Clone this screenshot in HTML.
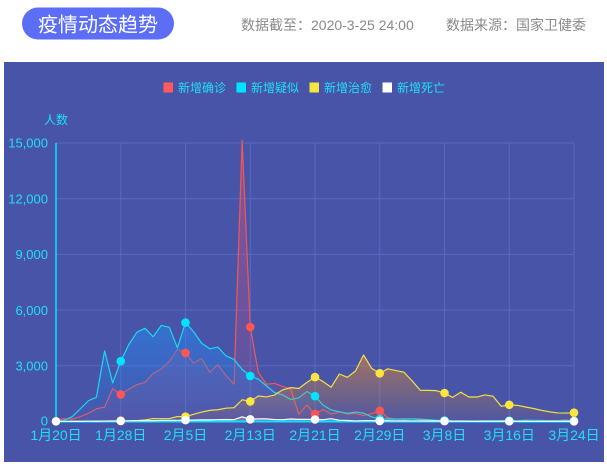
<!DOCTYPE html>
<html>
<head>
<meta charset="utf-8">
<style>
html,body{margin:0;padding:0;background:#fff;width:607px;height:468px;overflow:hidden;}
svg{display:block;}
text{font-family:"Liberation Sans","Noto Sans CJK SC",sans-serif;}
</style>
</head>
<body>
<svg width="607" height="468" viewBox="0 0 607 468" xmlns="http://www.w3.org/2000/svg">
<defs>
  <linearGradient id="gR" x1="0" y1="1" x2="0" y2="0">
    <stop offset="0" stop-color="#e0507a" stop-opacity="0.45"/>
    <stop offset="1" stop-color="#e0507a" stop-opacity="0.08"/>
  </linearGradient>
  <linearGradient id="gC" x1="0" y1="1" x2="0" y2="0">
    <stop offset="0" stop-color="#2884eb" stop-opacity="0.62"/>
    <stop offset="1" stop-color="#2884eb" stop-opacity="0.06"/>
  </linearGradient>
  <linearGradient id="gY" x1="0" y1="1" x2="0" y2="0">
    <stop offset="0" stop-color="#e68c2c" stop-opacity="0.55"/>
    <stop offset="1" stop-color="#e68c2c" stop-opacity="0.05"/>
  </linearGradient>
  <linearGradient id="gW" x1="0" y1="1" x2="0" y2="0">
    <stop offset="0" stop-color="#ffffff" stop-opacity="0.3"/>
    <stop offset="1" stop-color="#ffffff" stop-opacity="0.05"/>
  </linearGradient>
</defs>

<!-- header -->
<rect x="22" y="7.5" width="152" height="32" rx="16" ry="16" fill="#5b6ef5"/>
<text x="98" y="31.5" font-size="20" fill="#ffffff" text-anchor="middle">疫情动态趋势</text>
<text x="241" y="30" font-size="14" fill="#8a8a8a">数据截至：2020-3-25 24:00</text>
<text x="446" y="30" font-size="14" fill="#8a8a8a">数据来源：国家卫健委</text>

<!-- panel -->
<rect x="4" y="62" width="600" height="400" fill="#4854a8"/>

<!-- legend -->
<rect x="163.5" y="82.5" width="9.5" height="10" fill="#ff5a5a"/>
<text x="178" y="92" font-size="12" fill="#1fe0f5">新增确诊</text>
<rect x="236.5" y="82.5" width="9.5" height="10" fill="#00e5ff"/>
<text x="251" y="92" font-size="12" fill="#1fe0f5">新增疑似</text>
<rect x="309.5" y="82.5" width="9.5" height="10" fill="#f7e640"/>
<text x="324" y="92" font-size="12" fill="#1fe0f5">新增治愈</text>
<rect x="382.5" y="82.5" width="9.5" height="10" fill="#ffffff"/>
<text x="397" y="92" font-size="12" fill="#1fe0f5">新增死亡</text>

<text x="44" y="124" font-size="12" fill="#1fe0f5">人数</text>

<!-- grid -->
<g stroke="#5769c0" stroke-width="1" fill="none">
  <line x1="56" y1="143" x2="574" y2="143"/>
  <line x1="56" y1="198.7" x2="574" y2="198.7"/>
  <line x1="56" y1="254.4" x2="574" y2="254.4"/>
  <line x1="56" y1="310.1" x2="574" y2="310.1"/>
  <line x1="56" y1="365.8" x2="574" y2="365.8"/>
  <line x1="120.75" y1="143" x2="120.75" y2="421.5"/>
  <line x1="185.5" y1="143" x2="185.5" y2="421.5"/>
  <line x1="250.25" y1="143" x2="250.25" y2="421.5"/>
  <line x1="315" y1="143" x2="315" y2="421.5"/>
  <line x1="379.75" y1="143" x2="379.75" y2="421.5"/>
  <line x1="444.5" y1="143" x2="444.5" y2="421.5"/>
  <line x1="509.25" y1="143" x2="509.25" y2="421.5"/>
  <line x1="574" y1="143" x2="574" y2="421.5"/>
</g>

<!-- y labels -->
<g font-size="13" fill="#1fe0f5" text-anchor="end">
  <text x="48" y="147.7">15,000</text>
  <text x="48" y="203.4">12,000</text>
  <text x="48" y="259.1">9,000</text>
  <text x="48" y="314.8">6,000</text>
  <text x="48" y="370.5">3,000</text>
  <text x="48" y="425.5">0</text>
</g>

<!-- series in data coordinates -->
<g transform="translate(56,421.5) scale(8.09375,-0.018567)">
  <!-- red -->
  <polygon fill="url(#gR)" points="0,77 1,149 2,131 3,259 4,444 5,688 6,769 7,1771 8,1459 9,1737 10,1982 11,2102 12,2590 13,2829 14,3235 15,3887 16,3694 17,3143 18,3399 19,2656 20,3062 21,2478 22,2015 23,15152 24,5090 25,2641 26,2009 27,2048 28,1886 29,1749 30,394 31,889 32,397 33,648 34,409 35,508 36,406 37,433 38,327 39,427 40,573 41,202 42,125 43,119 44,139 45,143 46,99 47,44 48,40 49,19 50,24 51,15 52,8 53,11 54,20 55,16 56,21 57,13 58,34 59,39 60,41 61,46 62,39 63,78 64,47 64,0 0,0"/>
  <polyline fill="none" stroke="#f25757" stroke-width="1.2" stroke-linejoin="round" vector-effect="non-scaling-stroke" points="0,77 1,149 2,131 3,259 4,444 5,688 6,769 7,1771 8,1459 9,1737 10,1982 11,2102 12,2590 13,2829 14,3235 15,3887 16,3694 17,3143 18,3399 19,2656 20,3062 21,2478 22,2015 23,15152 24,5090 25,2641 26,2009 27,2048 28,1886 29,1749 30,394 31,889 32,397 33,648 34,409 35,508 36,406 37,433 38,327 39,427 40,573 41,202 42,125 43,119 44,139 45,143 46,99 47,44 48,40 49,19 50,24 51,15 52,8 53,11 54,20 55,16 56,21 57,13 58,34 59,39 60,41 61,46 62,39 63,78 64,47"/>
  <!-- cyan -->
  <polygon fill="url(#gC)" points="0,0 1,60 2,257 3,680 4,1118 5,1309 6,3806 7,2077 8,3248 9,4148 10,4812 11,5019 12,4562 13,5173 14,5072 15,3971 16,5328 17,4833 18,4214 19,3916 20,4008 21,3536 22,3342 23,2807 24,2450 25,2277 26,1918 27,1563 28,1432 29,1185 30,1277 31,1614 32,1361 33,882 34,620 35,530 36,439 37,508 38,452 39,248 40,132 41,141 42,129 43,143 44,143 45,102 46,99 47,64 48,60 49,36 50,31 51,33 52,33 53,45 54,39 55,41 56,45 57,45 58,66 59,62 60,54 61,40 62,48 63,62 64,40 64,0 0,0"/>
  <polyline fill="none" stroke="#17dbef" stroke-width="1.2" stroke-linejoin="round" vector-effect="non-scaling-stroke" points="0,0 1,60 2,257 3,680 4,1118 5,1309 6,3806 7,2077 8,3248 9,4148 10,4812 11,5019 12,4562 13,5173 14,5072 15,3971 16,5328 17,4833 18,4214 19,3916 20,4008 21,3536 22,3342 23,2807 24,2450 25,2277 26,1918 27,1563 28,1432 29,1185 30,1277 31,1614 32,1361 33,882 34,620 35,530 36,439 37,508 38,452 39,248 40,132 41,141 42,129 43,143 44,143 45,102 46,99 47,64 48,60 49,36 50,31 51,33 52,33 53,45 54,39 55,41 56,45 57,45 58,66 59,62 60,54 61,40 62,48 63,62 64,40"/>
  <!-- yellow -->
  <polygon fill="url(#gY)" points="0,0 1,0 2,0 3,6 4,11 5,3 6,15 7,9 8,43 9,21 10,47 11,85 12,157 13,147 14,157 15,262 16,261 17,387 18,510 19,600 20,632 21,716 22,744 23,1171 24,1081 25,1373 26,1323 27,1425 28,1701 29,1824 30,1779 31,2109 32,2393 33,2150 34,1846 35,2558 36,2380 37,2720 38,3582 39,2862 40,2596 41,2837 42,2742 43,2652 44,2189 45,1681 46,1678 47,1661 48,1535 49,1297 50,1578 51,1318 52,1318 53,1430 54,1361 55,820 56,900 57,870 58,780 59,700 60,600 61,520 62,460 63,455 64,474 64,0 0,0"/>
  <polyline fill="none" stroke="#f2e044" stroke-width="1.2" stroke-linejoin="round" vector-effect="non-scaling-stroke" points="0,0 1,0 2,0 3,6 4,11 5,3 6,15 7,9 8,43 9,21 10,47 11,85 12,157 13,147 14,157 15,262 16,261 17,387 18,510 19,600 20,632 21,716 22,744 23,1171 24,1081 25,1373 26,1323 27,1425 28,1701 29,1824 30,1779 31,2109 32,2393 33,2150 34,1846 35,2558 36,2380 37,2720 38,3582 39,2862 40,2596 41,2837 42,2742 43,2652 44,2189 45,1681 46,1678 47,1661 48,1535 49,1297 50,1578 51,1318 52,1318 53,1430 54,1361 55,820 56,900 57,870 58,780 59,700 60,600 61,520 62,460 63,455 64,474"/>
</g>

<!-- x axis line -->
<line x1="56" y1="421.5" x2="575" y2="421.5" stroke="#00e5ff" stroke-width="2"/>
<!-- y axis line -->
<line x1="56" y1="143" x2="56" y2="422" stroke="#00e5ff" stroke-width="1.5"/>

<g transform="translate(56,421.5) scale(8.09375,-0.018567)">
  <!-- white -->
  <polygon fill="url(#gW)" points="0,0 1,3 2,8 3,8 4,16 5,15 6,24 7,26 8,26 9,38 10,43 11,46 12,45 13,57 14,64 15,65 16,73 17,73 18,86 19,89 20,97 21,108 22,97 23,254 24,121 25,143 26,142 27,105 28,98 29,136 30,114 31,118 32,109 33,97 34,150 35,71 36,52 37,29 38,44 39,47 40,35 41,42 42,31 43,38 44,31 45,30 46,28 47,27 48,22 49,17 50,22 51,11 52,7 53,13 54,10 55,14 56,13 57,11 58,8 59,3 60,7 61,6 62,9 63,7 64,4 64,0 0,0"/>
  <polyline fill="none" stroke="#ffffff" stroke-width="1.2" stroke-linejoin="round" vector-effect="non-scaling-stroke" points="0,0 1,3 2,8 3,8 4,16 5,15 6,24 7,26 8,26 9,38 10,43 11,46 12,45 13,57 14,64 15,65 16,73 17,73 18,86 19,89 20,97 21,108 22,97 23,254 24,121 25,143 26,142 27,105 28,98 29,136 30,114 31,118 32,109 33,97 34,150 35,71 36,52 37,29 38,44 39,47 40,35 41,42 42,31 43,38 44,31 45,30 46,28 47,27 48,22 49,17 50,22 51,11 52,7 53,13 54,10 55,14 56,13 57,11 58,8 59,3 60,7 61,6 62,9 63,7 64,4"/>
</g>

<!-- markers -->
<g fill="#ff5555">
  <circle cx="120.75" cy="394.4" r="4.3"/>
  <circle cx="185.5" cy="352.9" r="4.3"/>
  <circle cx="250.25" cy="327.0" r="4.3"/>
  <circle cx="315" cy="414.1" r="4.3"/>
  <circle cx="379.75" cy="410.9" r="4.3"/>
  <circle cx="444.5" cy="420.8" r="4.3"/>
  <circle cx="509.25" cy="421.1" r="4.3"/>
  <circle cx="574" cy="420.6" r="4.3"/>
</g>
<g fill="#00e5ff">
  <circle cx="120.75" cy="361.2" r="4.3"/>
  <circle cx="185.5" cy="322.6" r="4.3"/>
  <circle cx="250.25" cy="376.0" r="4.3"/>
  <circle cx="315" cy="396.2" r="4.3"/>
  <circle cx="379.75" cy="419.0" r="4.3"/>
  <circle cx="444.5" cy="420.4" r="4.3"/>
  <circle cx="509.25" cy="420.7" r="4.3"/>
  <circle cx="574" cy="420.8" r="4.3"/>
</g>
<g fill="#fbe63f">
  <circle cx="120.75" cy="420.7" r="4.3"/>
  <circle cx="185.5" cy="416.7" r="4.3"/>
  <circle cx="250.25" cy="401.4" r="4.3"/>
  <circle cx="315" cy="377.1" r="4.3"/>
  <circle cx="379.75" cy="373.3" r="4.3"/>
  <circle cx="444.5" cy="393.0" r="4.3"/>
  <circle cx="509.25" cy="404.8" r="4.3"/>
  <circle cx="574" cy="412.7" r="4.3"/>
</g>
<g fill="#ffffff">
  <circle cx="56" cy="421.3" r="4.3"/>
  <circle cx="120.75" cy="421.0" r="4.3"/>
  <circle cx="185.5" cy="420.1" r="4.3"/>
  <circle cx="250.25" cy="419.3" r="4.3"/>
  <circle cx="315" cy="419.5" r="4.3"/>
  <circle cx="379.75" cy="420.9" r="4.3"/>
  <circle cx="444.5" cy="421.1" r="4.3"/>
  <circle cx="509.25" cy="421.2" r="4.3"/>
  <circle cx="574" cy="421.3" r="4.3"/>
</g>

<!-- x labels -->
<g font-size="14" fill="#1fe0f5" text-anchor="middle">
  <text x="56" y="440">1月20日</text>
  <text x="120.75" y="440">1月28日</text>
  <text x="185.5" y="440">2月5日</text>
  <text x="250.25" y="440">2月13日</text>
  <text x="315" y="440">2月21日</text>
  <text x="379.75" y="440">2月29日</text>
  <text x="444.5" y="440">3月8日</text>
  <text x="509.25" y="440">3月16日</text>
  <text x="574" y="440">3月24日</text>
</g>
</svg>
</body>
</html>
